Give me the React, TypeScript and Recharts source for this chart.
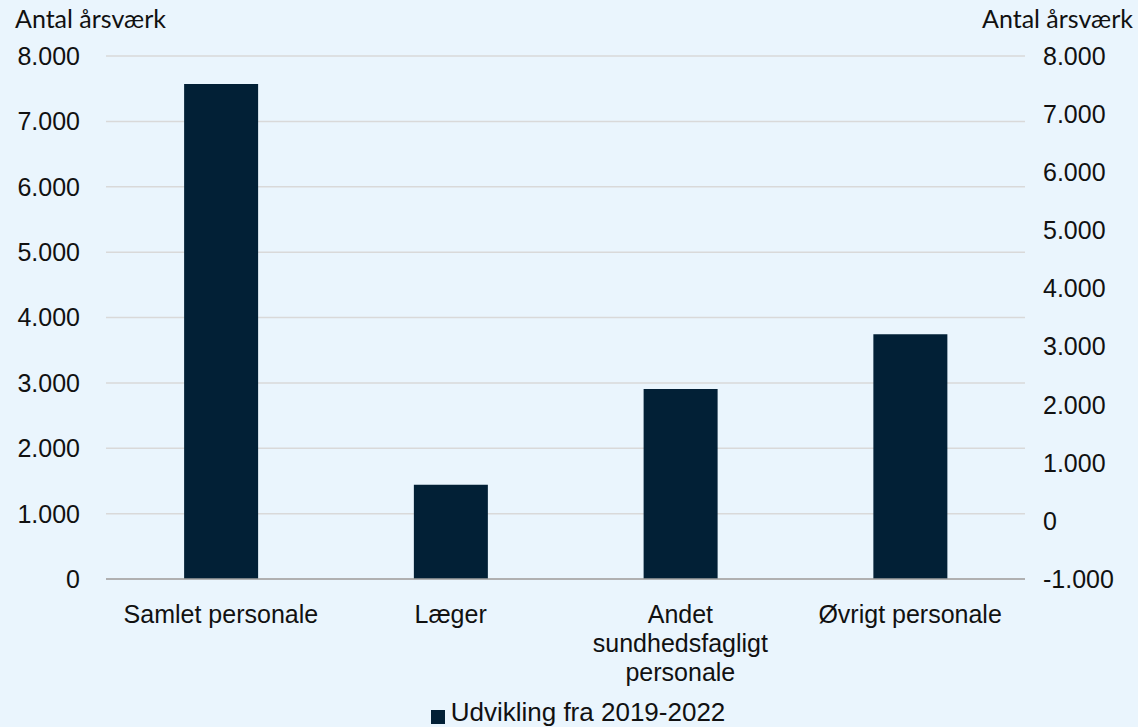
import React from "react";
import { BarChart, Bar, XAxis, YAxis, CartesianGrid, Legend } from "recharts";

const categories = ["Samlet personale", "Læger", "Andet sundhedsfagligt personale", "Øvrigt personale"];
const values = [7570, 1440, 2905, 3745];
const leftTicks = [0, 1000, 2000, 3000, 4000, 5000, 6000, 7000, 8000];
const rightTicks = [-1000, 0, 1000, 2000, 3000, 4000, 5000, 6000, 7000, 8000];
const seriesName = "Udvikling fra 2019-2022";
const axisTitle = "Antal årsværk";

const data = categories.map((c, i) => ({ name: c, value: values[i] }));

const fmt = (v: number) => {
  const neg = v < 0;
  const s = Math.abs(v).toString().replace(/\B(?=(\d{3})+(?!\d))/g, ".");
  return (neg ? "-" : "") + s;
};

const FONT = "'Liberation Sans', Arial, sans-serif";
const TITLE_FONT = "Lato, 'Open Sans', sans-serif";
const BG = "#EAF5FD";
const BAR = "#022036";
const FS = 25;
const WRAP_WIDTH = 215;

let ctx: CanvasRenderingContext2D | null = null;
const measure = (s: string) => {
  if (typeof document === "undefined") return s.length * FS * 0.5;
  if (!ctx) ctx = document.createElement("canvas").getContext("2d");
  if (!ctx) return s.length * FS * 0.5;
  ctx.font = `${FS}px 'Liberation Sans', Arial, sans-serif`;
  return ctx.measureText(s).width;
};

const wrap = (s: string) => {
  const words = s.split(" ");
  const lines: string[] = [];
  let cur = "";
  for (const w of words) {
    const next = cur ? cur + " " + w : w;
    if (cur && measure(next) > WRAP_WIDTH) {
      lines.push(cur);
      cur = w;
    } else cur = next;
  }
  if (cur) lines.push(cur);
  return lines;
};

const XTick = (props: any) => {
  const { x, y, payload } = props;
  const lines = wrap(String(payload.value));
  return (
    <text x={x} y={y + 18} textAnchor="middle" fontSize={FS} fontFamily={FONT} fill="#111">
      {lines.map((l, i) => (
        <tspan key={i} x={x} dy={i === 0 ? "0.71em" : 29}>
          {l}
        </tspan>
      ))}
    </text>
  );
};

export default function App() {
  return (
    <div style={{ position: "absolute", left: 0, top: 0, width: 1138, height: 727, background: BG }}>
      <div style={{ position: "absolute", left: 15, top: 3, fontFamily: TITLE_FONT, fontSize: 25, color: "#111", lineHeight: "30px" }}>
        {axisTitle}
      </div>
      <div style={{ position: "absolute", right: 5, top: 3, fontFamily: TITLE_FONT, fontSize: 25, color: "#111", lineHeight: "30px" }}>
        {axisTitle}
      </div>
      <BarChart
        width={1138}
        height={727}
        data={data}
        margin={{ top: 56, right: 0, left: 0, bottom: 0 }}
        barCategoryGap="34%"
      >
        <CartesianGrid vertical={false} stroke="#D9D9D9" strokeWidth={1.5} yAxisId="left" />
        <XAxis
          dataKey="name"
          tick={<XTick />}
          tickLine={false}
          axisLine={{ stroke: "#A0A0A0", strokeWidth: 1.5 }}
          interval={0}
          height={118}
          yAxisId="left"
        />
        <YAxis
          yAxisId="left"
          orientation="left"
          width={106}
          domain={[0, 8000]}
          ticks={leftTicks}
          tickFormatter={fmt}
          tickLine={false}
          axisLine={false}
          tickMargin={20}
          tick={{ fontSize: FS, fontFamily: FONT, fill: "#111" }}
        />
        <YAxis
          yAxisId="right"
          orientation="right"
          width={113}
          domain={[-1000, 8000]}
          ticks={rightTicks}
          tickFormatter={fmt}
          tickLine={false}
          axisLine={false}
          tickMargin={12}
          allowDataOverflow
          tick={{ fontSize: FS, fontFamily: FONT, fill: "#111" }}
        />
        <Legend
          verticalAlign="bottom"
          height={30}
          iconType="square"
          iconSize={14}
          wrapperStyle={{ paddingLeft: 14 }}
          formatter={(v: string) => (
            <span style={{ color: "#111", fontSize: 26, fontFamily: FONT, marginLeft: 2 }}>{v}</span>
          )}
        />
        <Bar yAxisId="left" dataKey="value" name={seriesName} fill={BAR} isAnimationActive={false} />
      </BarChart>
    </div>
  );
}
